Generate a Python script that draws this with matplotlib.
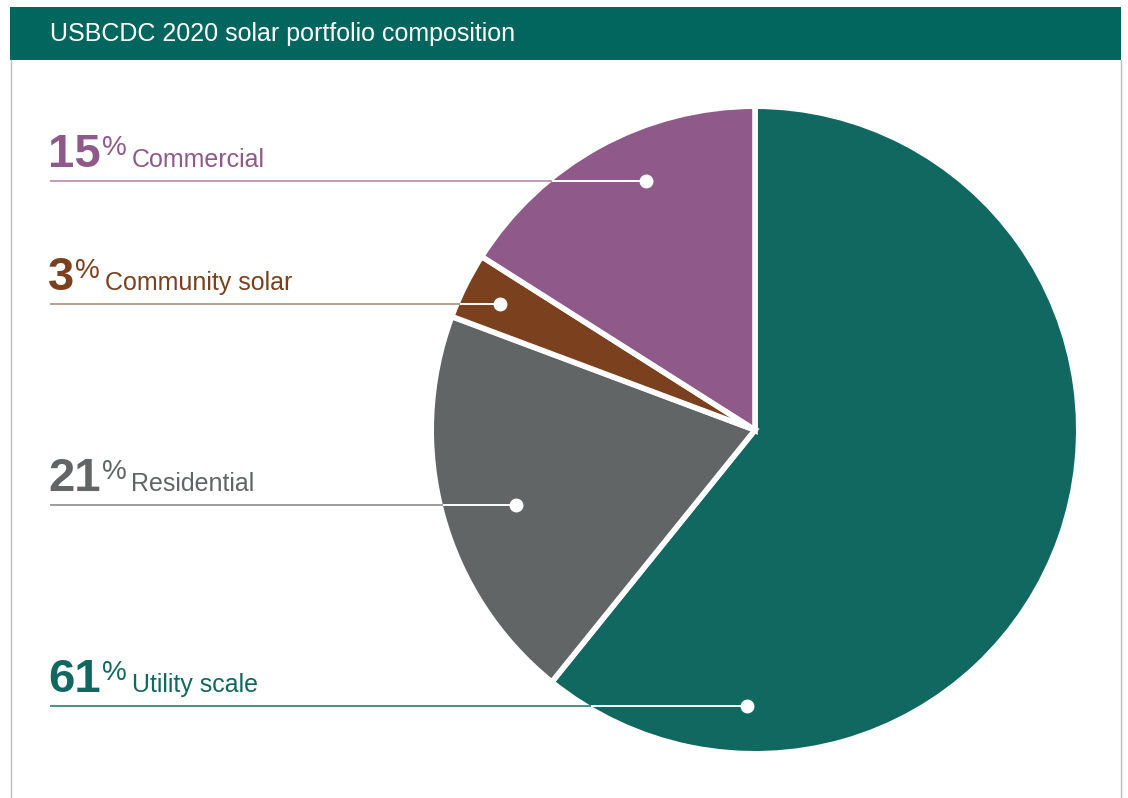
import matplotlib
matplotlib.use("Agg")
import matplotlib.pyplot as plt
import numpy as np
from matplotlib.patches import Rectangle

# ---- data ----
categories = ["Utility scale", "Residential", "Community solar", "Commercial"]
shares = [60.8, 19.9, 3.3, 16.0]          # slice sizes as drawn
pct_labels = ["61", "21", "3", "15"]       # printed percentages
title = "USBCDC 2020 solar portfolio composition"

# ---- style ----
slice_colors = ["#116860", "#626565", "#7B401D", "#8F5A8A"]
line_colors = ["#2A7F77", "#8A8C8C", "#B08C74", "#B48AB0"]
header_color = "#03665E"

W, H = 1128, 798
fig = plt.figure(figsize=(W / 100, H / 100), dpi=100)
ax = fig.add_axes([0, 0, 1, 1])

def Y(p):
    return H - p

cx, cy, r_vis = 755, Y(430), 321
lw_edge = 4.0
r_draw = r_vis + lw_edge * 100 / 72 / 2

ax.pie(shares, colors=slice_colors, startangle=90, counterclock=False,
       center=(cx, cy), radius=r_draw,
       wedgeprops=dict(edgecolor="white", linewidth=lw_edge, joinstyle="miter"))
ax.set_xlim(0, W)
ax.set_ylim(0, H)
ax.set_aspect("equal")
ax.axis("off")

# frame & header
ax.add_patch(Rectangle((10, Y(60)), 1111, 53, facecolor=header_color,
                       edgecolor="none", zorder=5))
ax.plot([10.5, 10.5], [0, Y(60)], color="#BDBDBD", lw=1, zorder=5)
ax.plot([1121, 1121], [0, Y(60)], color="#BDBDBD", lw=1, zorder=5)
ax.text(50, Y(34), title, color="white", fontsize=18, family="Liberation Sans",
        va="center", ha="left", zorder=6)

# label layout: (line y pixel, dot x pixel)
layout = {
    "Commercial": (181, 646),
    "Community solar": (304, 500),
    "Residential": (505, 516),
    "Utility scale": (706, 747),
}

fig.canvas.draw()
renderer = fig.canvas.get_renderer()

for cat, pct, col, lcol in zip(categories, pct_labels, slice_colors, line_colors):
    ly, dx = layout[cat]
    yd = Y(ly)
    x_edge = cx - np.sqrt(r_vis ** 2 - (yd - cy) ** 2)
    ax.plot([50, x_edge], [yd, yd], color=lcol, lw=1.2, zorder=3,
            solid_capstyle="butt")
    ax.plot([x_edge, dx], [yd, yd], color="white", lw=1.4, zorder=3,
            solid_capstyle="butt")
    ax.plot([dx], [yd], marker="o", ms=9, color="white", mec="white", zorder=4)

    base = yd + 14
    t1 = ax.text(48, base, pct, color=col, fontsize=34, family="Liberation Sans",
                 fontweight="bold", va="baseline", ha="left")
    bb = t1.get_window_extent(renderer)
    t2 = ax.text(bb.x1 + 1, bb.y1 - 2, "%", color=col, fontsize=20,
                 family="Liberation Sans", va="top", ha="left")
    bb2 = t2.get_window_extent(renderer)
    ax.text(bb2.x1 + 5, base, cat, color=col, fontsize=18,
            family="Liberation Sans", va="baseline", ha="left")

fig.savefig("out.png", dpi=100)
